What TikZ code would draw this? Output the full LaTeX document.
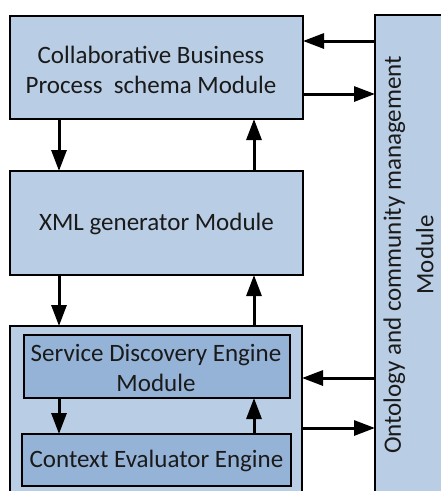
\documentclass[tikz,border=0pt]{standalone}
\usepackage{fontspec}
\setmainfont{Carlito}
\usetikzlibrary{arrows.meta}
\definecolor{boxlight}{HTML}{B9CDE5}
\definecolor{boxdark}{HTML}{95B3D7}
\definecolor{txt}{HTML}{1A1A1A}
\tikzset{
  box/.style={draw=black, line width=1.6pt, fill=boxlight},
  inner/.style={draw=black, line width=1.6pt, fill=boxdark},
  lbl/.style={font=\fontsize{25}{30.5}\selectfont, text=txt, align=center, inner sep=0pt},
  arr/.style={line width=3pt, -{Triangle[length=21pt,width=15pt]}}
}
\begin{document}
\begin{tikzpicture}[x=1pt,y=-1pt]
\useasboundingbox (0,0) rectangle (441,491);
\begin{scope}
\clip (0,0) rectangle (441,491);
% boxes
\draw[box] (10,16) rectangle (303,119);
\draw[box] (10,171) rectangle (303,275);
\draw[box] (10,326) rectangle (302,510);
\draw[inner] (24,335) rectangle (290,398);
\draw[inner] (22,434) rectangle (291,486);
\draw[box] (375,15) rectangle (460,510);
\end{scope}
\node[lbl] (cbp) at (151,70) {Collaborative Business\\Process\ \ schema Module};
\node[lbl] (xml) at (156.5,224) {XML generator Module};
\node[lbl] (sde) at (156,368) {Service Discovery Engine\\Module};
\node[lbl] (cee) at (156.5,461) {Context Evaluator Engine};
\node[lbl, rotate=90] (onto) at (408.5,255) {Ontology and community management\\[2pt]Module};
% anchor coordinates
\coordinate (a1s) at (375,41);  \coordinate (a1e) at (303,41);
\coordinate (a2s) at (303,94);  \coordinate (a2e) at (375,94);
\coordinate (a3s) at (375,378); \coordinate (a3e) at (302,378);
\coordinate (a4s) at (302,428); \coordinate (a4e) at (375,428);
\coordinate (d1s) at (59,119);  \coordinate (d1e) at (59,171);
\coordinate (u1s) at (254,171); \coordinate (u1e) at (254,119);
\coordinate (d2s) at (59,275);  \coordinate (d2e) at (59,326);
\coordinate (u2s) at (254,326); \coordinate (u2e) at (254,275);
\coordinate (d3s) at (59,398);  \coordinate (d3e) at (59,434);
\coordinate (u3s) at (254,434); \coordinate (u3e) at (254,398);
% arrows
\draw[arr] (a1s) -- (a1e);
\draw[arr] (a2s) -- (a2e);
\draw[arr] (a3s) -- (a3e);
\draw[arr] (a4s) -- (a4e);
\draw[arr] (d1s) -- (d1e);
\draw[arr] (u1s) -- (u1e);
\draw[arr] (d2s) -- (d2e);
\draw[arr] (u2s) -- (u2e);
\draw[arr] (d3s) -- (d3e);
\draw[arr] (u3s) -- (u3e);
\end{tikzpicture}
\end{document}
